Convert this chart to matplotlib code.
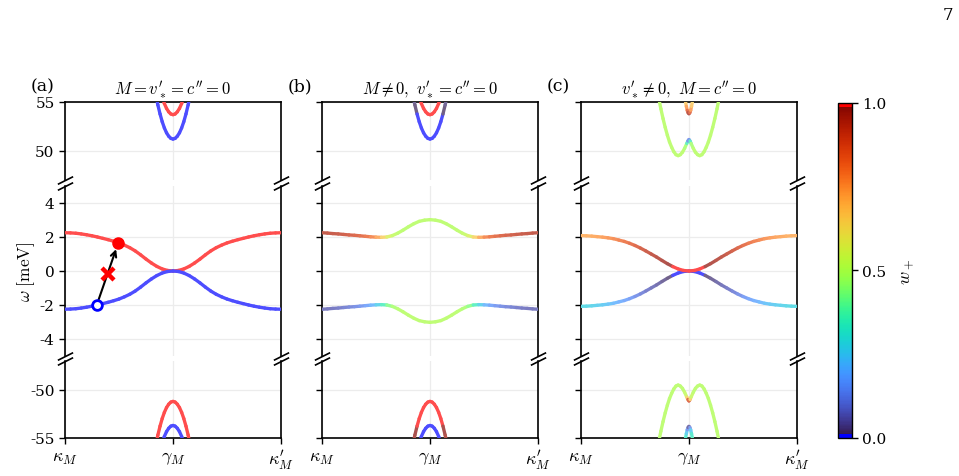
import numpy as np
import matplotlib.pyplot as plt
from matplotlib.collections import LineCollection
from matplotlib.colors import ListedColormap, Normalize
from matplotlib.cm import ScalarMappable

plt.rcParams['font.family'] = ['DejaVu Serif']
plt.rcParams['mathtext.fontset'] = 'cm'
plt.rcParams['axes.unicode_minus'] = False

# ---- data ----
panel_labels = ['(a)', '(b)', '(c)']
panel_titles = [r"$M = v_*^{\prime} = c^{\prime\prime} = 0$",
                r"$M \neq 0,\ v_*^{\prime} = c^{\prime\prime} = 0$",
                r"$v_*^{\prime} \neq 0,\ M = c^{\prime\prime} = 0$"]
xtick_labels = [r'$\kappa_M$', r'$\gamma_M$', r"$\kappa_M^{\prime}$"]

# middle window, x from kappa (0) to kappa' (1), step 0.025
x_mid = np.linspace(0, 1, 41)

ea_up = [2.25, 2.24, 2.22, 2.18, 2.13, 2.07, 2.00, 1.92, 1.84, 1.75, 1.65, 1.52, 1.37, 1.18, 0.95, 0.70, 0.47,
         0.27, 0.12, 0.03, 0.00, 0.03, 0.12, 0.27, 0.47, 0.70, 0.95, 1.18, 1.37, 1.52, 1.65, 1.75, 1.84, 1.92,
         2.00, 2.07, 2.13, 2.18, 2.22, 2.24, 2.25]
ea_dn = [-2.25, -2.24, -2.22, -2.18, -2.13, -2.07, -2.00, -1.92, -1.84, -1.75, -1.65, -1.52, -1.37, -1.18, -0.95,
         -0.70, -0.47, -0.27, -0.12, -0.03, 0.00, -0.03, -0.12, -0.27, -0.47, -0.70, -0.95, -1.18, -1.37, -1.52,
         -1.65, -1.75, -1.84, -1.92, -2.00, -2.07, -2.13, -2.18, -2.22, -2.24, -2.25]

eb_up = [2.25, 2.23, 2.20, 2.18, 2.15, 2.12, 2.10, 2.07, 2.04, 2.01, 1.99, 1.98, 2.00, 2.08, 2.22, 2.40, 2.60,
         2.78, 2.92, 2.99, 3.02, 2.99, 2.92, 2.78, 2.60, 2.40, 2.22, 2.08, 2.00, 1.98, 1.99, 2.01, 2.04, 2.07,
         2.10, 2.12, 2.15, 2.18, 2.20, 2.23, 2.25]
eb_dn = [-2.25, -2.23, -2.20, -2.18, -2.15, -2.12, -2.10, -2.07, -2.04, -2.01, -1.99, -1.98, -2.00, -2.08, -2.22,
         -2.40, -2.60, -2.78, -2.92, -2.99, -3.02, -2.99, -2.92, -2.78, -2.60, -2.40, -2.22, -2.08, -2.00, -1.98,
         -1.99, -2.01, -2.04, -2.07, -2.10, -2.12, -2.15, -2.18, -2.20, -2.23, -2.25]
wb_up = [0.94, 0.935, 0.93, 0.925, 0.915, 0.905, 0.89, 0.87, 0.85, 0.82, 0.77, 0.70, 0.60, 0.53, 0.51, 0.50,
         0.50, 0.50, 0.50, 0.50, 0.50, 0.50, 0.50, 0.50, 0.50, 0.50, 0.51, 0.53, 0.60, 0.70, 0.77, 0.82, 0.85,
         0.87, 0.89, 0.905, 0.915, 0.925, 0.93, 0.935, 0.94]
wb_dn = [0.06, 0.065, 0.07, 0.075, 0.085, 0.095, 0.11, 0.13, 0.15, 0.18, 0.23, 0.30, 0.40, 0.47, 0.49, 0.50,
         0.50, 0.50, 0.50, 0.50, 0.50, 0.50, 0.50, 0.50, 0.50, 0.50, 0.49, 0.47, 0.40, 0.30, 0.23, 0.18, 0.15,
         0.13, 0.11, 0.095, 0.085, 0.075, 0.07, 0.065, 0.06]

ec_up = [2.08, 2.07, 2.05, 2.02, 1.99, 1.95, 1.90, 1.82, 1.74, 1.63, 1.50, 1.35, 1.18, 1.00, 0.82, 0.62, 0.43,
         0.26, 0.12, 0.03, 0.00, 0.03, 0.12, 0.26, 0.43, 0.62, 0.82, 1.00, 1.18, 1.35, 1.50, 1.63, 1.74, 1.82,
         1.90, 1.95, 1.99, 2.02, 2.05, 2.07, 2.08]
ec_dn = [-2.08, -2.07, -2.05, -2.02, -1.99, -1.95, -1.90, -1.82, -1.74, -1.63, -1.50, -1.35, -1.18, -1.00, -0.82,
         -0.62, -0.43, -0.26, -0.12, -0.03, 0.00, -0.03, -0.12, -0.26, -0.43, -0.62, -0.82, -1.00, -1.18, -1.35,
         -1.50, -1.63, -1.74, -1.82, -1.90, -1.95, -1.99, -2.02, -2.05, -2.07, -2.08]
wc_up = [0.72, 0.72, 0.73, 0.74, 0.75, 0.765, 0.78, 0.80, 0.82, 0.84, 0.865, 0.89, 0.91, 0.93, 0.945, 0.96,
         0.975, 0.99, 0.995, 1.0, 1.0, 1.0, 0.995, 0.99, 0.975, 0.96, 0.945, 0.93, 0.91, 0.89, 0.865, 0.84, 0.82,
         0.80, 0.78, 0.765, 0.75, 0.74, 0.73, 0.72, 0.72]
wc_dn = [0.28, 0.28, 0.27, 0.26, 0.25, 0.235, 0.22, 0.20, 0.18, 0.16, 0.135, 0.11, 0.09, 0.07, 0.055, 0.04,
         0.025, 0.01, 0.005, 0.0, 0.0, 0.0, 0.005, 0.01, 0.025, 0.04, 0.055, 0.07, 0.09, 0.11, 0.135, 0.16, 0.18,
         0.20, 0.22, 0.235, 0.25, 0.26, 0.27, 0.28, 0.28]

# high-energy bands in (a) and (b)
x_par_out = np.linspace(0.42, 0.58, 17)
x_par_in = np.linspace(0.45, 0.55, 11)
e_top_out = [55.76, 54.69, 53.77, 52.98, 52.34, 51.84, 51.49, 51.27, 51.20, 51.27, 51.49, 51.84, 52.34, 52.98,
             53.77, 54.69, 55.76]
e_top_in = [55.48, 54.84, 54.34, 53.99, 53.77, 53.70, 53.77, 53.99, 54.34, 54.84, 55.48]
e_bot_out = [-55.76, -54.69, -53.77, -52.98, -52.34, -51.84, -51.49, -51.27, -51.20, -51.27, -51.49, -51.84,
             -52.34, -52.98, -53.77, -54.69, -55.76]
e_bot_in = [-55.48, -54.84, -54.34, -53.99, -53.77, -53.70, -53.77, -53.99, -54.34, -54.84, -55.48]
wb_top_out = [0.04, 0.02, 0.01, 0, 0, 0, 0, 0, 0, 0, 0, 0, 0, 0, 0.01, 0.02, 0.04]
wb_bot_out = [0.96, 0.98, 0.99, 1, 1, 1, 1, 1, 1, 1, 1, 1, 1, 1, 0.99, 0.98, 0.96]

# high-energy bands in (c)
xc_out = [0.36, 0.37, 0.38, 0.39, 0.40, 0.41, 0.42, 0.43, 0.44, 0.45, 0.46, 0.47, 0.48, 0.49, 0.495, 0.50,
          0.505, 0.51, 0.52, 0.53, 0.54, 0.55, 0.56, 0.57, 0.58, 0.59, 0.60, 0.61, 0.62, 0.63, 0.64]
ec_top_out = [55.4, 54.3, 53.3, 52.4, 51.6, 50.9, 50.35, 49.9, 49.6, 49.5, 49.6, 49.85, 50.25, 50.75, 51.0,
              51.15, 51.0, 50.75, 50.25, 49.85, 49.6, 49.5, 49.6, 49.9, 50.35, 50.9, 51.6, 52.4, 53.3, 54.3, 55.4]
ec_bot_out = [-55.4, -54.3, -53.3, -52.4, -51.6, -50.9, -50.35, -49.9, -49.6, -49.5, -49.6, -49.85, -50.25,
              -50.75, -51.0, -51.15, -51.0, -50.75, -50.25, -49.85, -49.6, -49.5, -49.6, -49.9, -50.35, -50.9,
              -51.6, -52.4, -53.3, -54.3, -55.4]
wc_top_out = [0.5, 0.5, 0.5, 0.5, 0.5, 0.5, 0.5, 0.5, 0.5, 0.5, 0.5, 0.5, 0.5, 0.45, 0.25, 0.0, 0.25, 0.45,
              0.5, 0.5, 0.5, 0.5, 0.5, 0.5, 0.5, 0.5, 0.5, 0.5, 0.5, 0.5, 0.5]
wc_bot_out = [0.5, 0.5, 0.5, 0.5, 0.5, 0.5, 0.5, 0.5, 0.5, 0.5, 0.5, 0.5, 0.5, 0.55, 0.75, 1.0, 0.75, 0.55,
              0.5, 0.5, 0.5, 0.5, 0.5, 0.5, 0.5, 0.5, 0.5, 0.5, 0.5, 0.5, 0.5]
xc_in = [0.48, 0.484, 0.488, 0.492, 0.496, 0.50, 0.504, 0.508, 0.512, 0.516, 0.52]
ec_top_in = [55.6, 55.05, 54.55, 54.15, 53.9, 53.8, 53.9, 54.15, 54.55, 55.05, 55.6]
ec_bot_in = [-55.6, -55.05, -54.55, -54.15, -53.9, -53.8, -53.9, -54.15, -54.55, -55.05, -55.6]
wc_top_in = [0.62, 0.65, 0.70, 0.80, 0.92, 1.0, 0.92, 0.80, 0.70, 0.65, 0.62]
wc_bot_in = [0.38, 0.35, 0.30, 0.20, 0.08, 0.0, 0.08, 0.20, 0.30, 0.35, 0.38]

# transition markers in (a)
start_pt = (0.147, -2.0)
end_pt = (0.247, 1.67)
cross_pt = (0.197, -0.17)

# ---- colormap: turbo with pure blue / red ends ----
cols = plt.get_cmap('turbo')(np.linspace(0, 1, 256))
cols[:3] = [0, 0, 1, 1]
cols[-3:] = [1, 0, 0, 1]
cmap = ListedColormap(cols)


def band(ax, x, e, w, alpha=0.7, lw=2.4):
    x = np.asarray(x, float)
    e = np.asarray(e, float)
    w = np.asarray(w, float) * np.ones_like(x)
    pts = np.column_stack([x, e]).reshape(-1, 1, 2)
    segs = np.concatenate([pts[:-1], pts[1:]], axis=1)
    c = cmap(0.5 * (w[:-1] + w[1:]))
    c[:, :3] = alpha * c[:, :3] + (1 - alpha)
    lc = LineCollection(segs, colors=c, linewidths=lw, capstyle='round', joinstyle='round', zorder=3)
    ax.add_collection(lc)


fig = plt.figure(figsize=(9.59, 4.77), dpi=100)
lefts = [0.0678, 0.3358, 0.6058]
width = 0.2252
brk = dict(marker=[(-1, -0.5), (1, 0.5)], markersize=11, linestyle='none', color='k', mec='k', mew=1.2,
           clip_on=False, zorder=5)

columns = []
for i, l in enumerate(lefts):
    top = fig.add_axes([l, 0.6205, width, 0.1636])
    mid = fig.add_axes([l, 0.2516, width, 0.3564])
    bot = fig.add_axes([l, 0.0797, width, 0.1614])
    top.set_ylim(47, 55)
    mid.set_ylim(-5, 5)
    bot.set_ylim(-55, -47)
    top.set_yticks([50, 55])
    top.set_yticklabels(['50', '55'])
    mid.set_yticks([-4, -2, 0, 2, 4])
    mid.set_yticklabels(['-4', '-2', '0', '2', '4'])
    bot.set_yticks([-55, -50])
    bot.set_yticklabels(['-55', '-50'])
    for ax in (top, mid, bot):
        ax.set_xlim(0, 1)
        ax.set_xticks([0, 0.5, 1])
        ax.grid(True, color='#ececec', lw=0.9, zorder=0)
        ax.set_axisbelow(True)
        for s in ax.spines.values():
            s.set_linewidth(1.2)
        ax.tick_params(axis='y', length=4, width=1.0, labelsize=11, labelleft=(i == 0))
    top.spines['bottom'].set_visible(False)
    mid.spines['top'].set_visible(False)
    mid.spines['bottom'].set_visible(False)
    bot.spines['top'].set_visible(False)
    top.tick_params(axis='x', length=0, labelbottom=False)
    mid.tick_params(axis='x', length=0, labelbottom=False)
    bot.set_xticklabels(xtick_labels)
    bot.tick_params(axis='x', length=4, width=1.0, labelsize=13, pad=3)
    top.plot([0, 1], [0, 0], transform=top.transAxes, **brk)
    mid.plot([0, 1], [1, 1], transform=mid.transAxes, **brk)
    mid.plot([0, 1], [0, 0], transform=mid.transAxes, **brk)
    bot.plot([0, 1], [1, 1], transform=bot.transAxes, **brk)
    top.set_title(panel_titles[i], fontsize=12, pad=6)
    top.text(-0.16, 1.1, panel_labels[i], transform=top.transAxes, fontsize=12.5, ha='left', va='bottom')
    columns.append((top, mid, bot))

# (a)
top, mid, bot = columns[0]
band(mid, x_mid, ea_up, 1.0)
band(mid, x_mid, ea_dn, 0.0)
band(top, x_par_out, e_top_out, 0.0)
band(top, x_par_in, e_top_in, 1.0)
band(bot, x_par_out, e_bot_out, 1.0)
band(bot, x_par_in, e_bot_in, 0.0)
mid.set_ylabel(r'$\omega\ [\mathrm{meV}]$', fontsize=12.5, labelpad=2)
mid.annotate('', xy=end_pt, xytext=start_pt,
             arrowprops=dict(arrowstyle='->', color='k', lw=1.5, shrinkA=4, shrinkB=5), zorder=6)
mid.plot(*end_pt, 'o', color='red', ms=8, zorder=7)
mid.plot(*start_pt, 'o', mfc='white', mec='blue', mew=2, ms=7, zorder=7)
mid.plot(*cross_pt, 'x', color='red', ms=9, mew=3.2, zorder=8)

# (b)
top, mid, bot = columns[1]
band(mid, x_mid, eb_up, wb_up)
band(mid, x_mid, eb_dn, wb_dn)
band(top, x_par_out, e_top_out, wb_top_out)
band(top, x_par_in, e_top_in, 1.0)
band(bot, x_par_out, e_bot_out, wb_bot_out)
band(bot, x_par_in, e_bot_in, 0.0)

# (c)
top, mid, bot = columns[2]
band(mid, x_mid, ec_dn, wc_dn)
band(mid, x_mid, ec_up, wc_up)
band(top, xc_out, ec_top_out, wc_top_out)
band(top, xc_in, ec_top_in, wc_top_in)
band(bot, xc_out, ec_bot_out, wc_bot_out)
band(bot, xc_in, ec_bot_in, wc_bot_in)

# colorbar
cax = fig.add_axes([0.8738, 0.0797, 0.0146, 0.7023])
sm = ScalarMappable(norm=Normalize(0, 1), cmap=cmap)
cb = fig.colorbar(sm, cax=cax, ticks=[0, 0.5, 1])
cb.ax.set_yticklabels(['0.0', '0.5', '1.0'])
cb.ax.tick_params(labelsize=11, length=4, width=1.0)
cb.outline.set_linewidth(1.0)
cb.set_label(r'$w_+$', fontsize=13, labelpad=8)

fig.text(0.994, 0.985, '7', ha='right', va='top', fontsize=12)

fig.savefig('out.png', dpi=100)
